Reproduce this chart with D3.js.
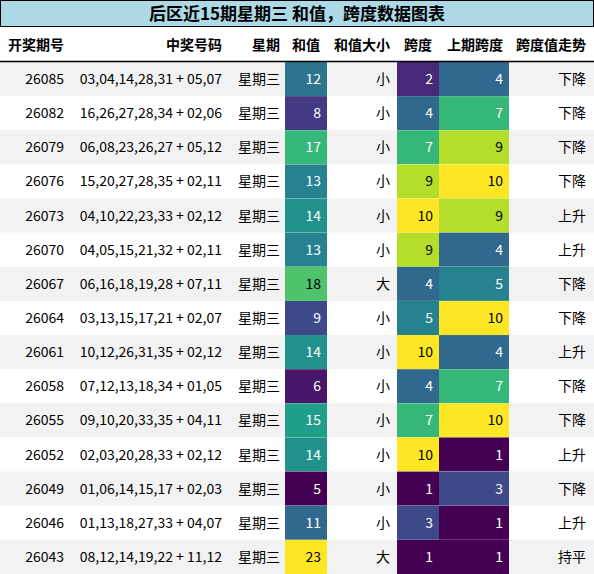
<!DOCTYPE html><html><head><meta charset="utf-8"><script src="https://cdn.jsdelivr.net/npm/d3@7"></script>
<style>body{margin:0;background:#fff}text{font-family:"Noto Sans CJK SC",sans-serif}</style></head><body><svg id="c" width="594" height="574"></svg>
<script>
const title="后区近15期星期三  和值，跨度数据图表";
const headers=["开奖期号","中奖号码","星期","和值","和值大小","跨度","上期跨度","跨度值走势"];
const issues=["26085","26082","26079","26076","26073","26070","26067","26064","26061","26058","26055","26052","26049","26046","26043"];
const numbers=["03,04,14,28,31 + 05,07","16,26,27,28,34 + 02,06","06,08,23,26,27 + 05,12","15,20,27,28,35 + 02,11","04,10,22,23,33 + 02,12","04,05,15,21,32 + 02,11","06,16,18,19,28 + 07,11","03,13,15,17,21 + 02,07","10,12,26,31,35 + 02,12","07,12,13,18,34 + 01,05","09,10,20,33,35 + 04,11","02,03,20,28,33 + 02,12","01,06,14,15,17 + 02,03","01,13,18,27,33 + 04,07","08,12,14,19,22 + 11,12"];
const weekday="星期三";
const sums=[12,8,17,13,14,13,18,9,14,6,15,14,5,11,23];
const sizes=["小","小","小","小","小","小","大","小","小","小","小","小","小","小","大"];
const spans=[2,4,7,9,10,9,4,5,10,4,7,10,1,3,1];
const prevSpans=[4,7,9,10,9,4,5,10,4,7,10,1,3,1,1];
const trends=["下降","下降","下降","下降","上升","上升","下降","下降","上升","下降","下降","上升","下降","上升","持平"];
(function(){
const svg=d3.select("#c");
const W=594;
svg.append("rect").attr("x",0.5).attr("y",0.5).attr("width",W-1).attr("height",26).attr("fill","#add8e6").attr("stroke","#000");
svg.append("text").attr("x",W/2).attr("y",20).attr("text-anchor","middle").attr("font-size",17).attr("font-weight","bold").text(title);
const headY=45, y0t=62;
const y=d3.scaleBand().domain(d3.range(15)).range([y0t,574]);
const cols=[{x0:0,x1:73,tx:64},{x0:73,x1:228,tx:222},{x0:228,x1:285,tx:280},{x0:285,x1:327,tx:321},{x0:327,x1:397,tx:390},{x0:397,x1:439,tx:433},{x0:439,x1:509,tx:503},{x0:509,x1:594,tx:586}];
const hx=[36,222,280,306,390,418,503,586];
const ha=["middle","end","end","middle","end","middle","end","end"];
headers.forEach((h,i)=>svg.append("text").attr("x",hx[i]).attr("y",headY+5).attr("text-anchor",ha[i]).attr("font-size",14).attr("font-weight","bold").text(h));
const cSum=d3.scaleSequential(d3.interpolateViridis).domain(d3.extent(sums));
const cSpan=d3.scaleSequential(d3.interpolateViridis).domain([1,10]);
const fg=(s,v)=>{const t=(v-s.domain()[0])/(s.domain()[1]-s.domain()[0]);return t>0.72?"#000":"#fff";};
issues.forEach((iss,r)=>{
  const g=svg.append("g"); const ry=y(r), bh=y.bandwidth(), ty=ry+bh/2+5;
  g.append("rect").attr("x",0).attr("y",ry).attr("width",W).attr("height",bh).attr("fill",r%2==0?"#f2f2f2":"#fff");
  const cells=[[iss],[numbers[r]],[weekday],[sums[r],cSum],[sizes[r]],[spans[r],cSpan],[prevSpans[r],cSpan],[trends[r]]];
  cells.forEach(([v,sc],i)=>{
    const c=cols[i]; let col="#000";
    if(sc){g.append("rect").attr("x",c.x0).attr("y",ry).attr("width",c.x1-c.x0).attr("height",bh).attr("fill",sc(v));col=fg(sc,v);}
    g.append("text").attr("x",c.tx).attr("y",ty).attr("text-anchor","end").attr("font-size",14).attr("fill",col).text(v);
  });
});
svg.append("line").attr("x1",0).attr("x2",W).attr("y1",y0t-0.5).attr("y2",y0t-0.5).attr("stroke","#000").attr("stroke-width",1.5);
})();
</script></body></html>
